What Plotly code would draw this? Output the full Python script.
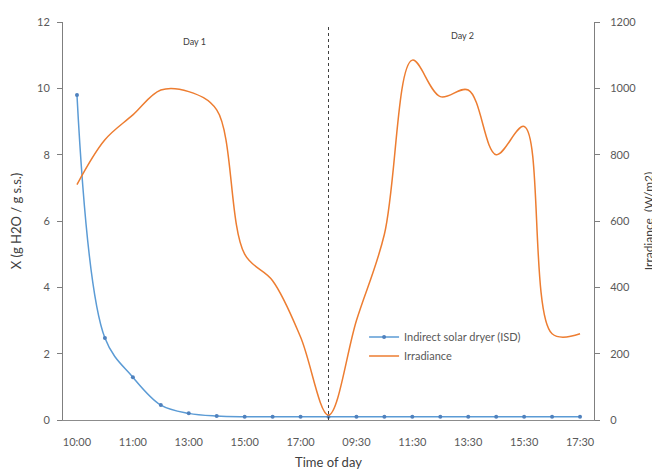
import plotly.graph_objects as go

times = ["10:00", "10:30", "11:00", "12:00", "13:00", "14:00", "15:00", "16:00", "17:00", "18:00",
         "09:30", "10:30", "11:30", "12:30", "13:30", "14:30", "15:30", "16:30", "17:30"]
moisture_isd = [9.8, 2.47, 1.29, 0.45, 0.2, 0.12, 0.1, 0.1, 0.1, 0.1,
                0.1, 0.1, 0.1, 0.1, 0.1, 0.1, 0.1, 0.1, 0.1]
irradiance = [710, 845, 920, 995, 990, 935, 500, 420, 250, 15,
              300, 560, 1085, 975, 995, 800, 885, 260, 260]
day_labels = ["Day 1", "Day 2"]
split_index = 9

idx = list(range(len(times)))
tick_idx = idx[::2]
tick_txt = [times[i] for i in tick_idx]

font_fam = "Lato, 'Liberation Sans', sans-serif"
gray = "#595959"

fig = go.Figure()
fig.add_trace(go.Scatter(
    x=idx, y=moisture_isd, name="Indirect solar dryer (ISD)",
    mode="lines+markers", line=dict(color="#5B9BD5", width=1.5, shape="spline", smoothing=1),
    marker=dict(size=4, color="#4F81BD"), yaxis="y"))
fig.add_trace(go.Scatter(
    x=idx, y=irradiance, name="Irradiance",
    mode="lines", line=dict(color="#ED7D31", width=1.5, shape="spline", smoothing=1),
    yaxis="y2"))

fig.add_shape(type="line", xref="x", yref="paper", x0=split_index, x1=split_index, y0=0, y1=0.995,
              line=dict(color="#404040", width=1, dash="dot"))

fig.add_annotation(x=4.2, y=11.4, xref="x", yref="y", text=day_labels[0], showarrow=False,
                   font=dict(size=9, color="#404040", family=font_fam))
fig.add_annotation(x=13.8, y=11.6, xref="x", yref="y", text=day_labels[1], showarrow=False,
                   font=dict(size=9, color="#404040", family=font_fam))

fig.update_layout(
    width=652, height=465,
    margin=dict(l=55, r=66, t=14, b=53),
    paper_bgcolor="white", plot_bgcolor="white",
    font=dict(family=font_fam, size=11, color=gray),
    showlegend=True,
    legend=dict(x=0.567, y=0.245, xanchor="left", yanchor="top", bgcolor="rgba(0,0,0,0)",
                font=dict(size=11, color=gray), tracegroupgap=0, itemwidth=30),
    xaxis=dict(range=[-0.5, 18.5], tickmode="array", tickvals=tick_idx, ticktext=tick_txt,
               showgrid=False, zeroline=False, showline=True, linecolor="#8c8c8c", linewidth=1,
               ticks="", tickfont=dict(size=11, color=gray), ticklabelstandoff=12, automargin=False,
               title=dict(text="Time of day", font=dict(size=13, color="#404040"), standoff=10)),
    yaxis=dict(range=[0, 12], tickvals=[0, 2, 4, 6, 8, 10, 12], showgrid=False, zeroline=False,
               showline=True, linecolor="#7f7f7f", linewidth=1, ticks="outside", ticklen=5,
               tickcolor="#7f7f7f", tickfont=dict(size=11, color=gray), ticklabelstandoff=5,
               automargin=False,
               title=dict(text="X (g H2O / g s.s.)", font=dict(size=13, color="#404040"), standoff=14)),
    yaxis2=dict(range=[0, 1200], tickvals=[0, 200, 400, 600, 800, 1000, 1200], overlaying="y",
                side="right", showgrid=False, zeroline=False, showline=True, linecolor="#7f7f7f",
                linewidth=1, ticks="outside", ticklen=5, tickcolor="#7f7f7f",
                tickfont=dict(size=11, color=gray), ticklabelstandoff=8, automargin=False,
                title=dict(text="Irradiance  (W/m2)", font=dict(size=12, color="#404040"), standoff=9)),
)

fig.write_html("out.html")
